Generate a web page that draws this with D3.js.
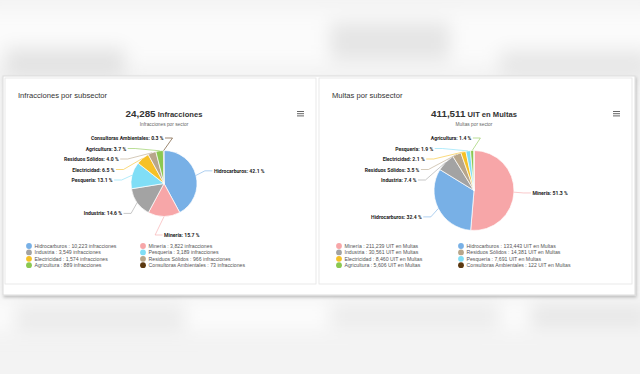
<!DOCTYPE html>
<html>
<head>
<meta charset="utf-8">
<script src="https://cdn.jsdelivr.net/npm/d3@7"></script>
<style>
  body { margin: 0; background: #f4f4f4; }
  svg { display: block; font-family: "Liberation Sans", Arial, sans-serif; }
</style>
</head>
<body>
<div id="chart"></div>
<script>
// --- data ---
var infCategories = ["Hidrocarburos", "Minería", "Industria", "Pesquería", "Electricidad", "Residuos Sólidos", "Agricultura", "Consultoras Ambientales"];
var infValues = [10223, 3822, 3549, 3189, 1574, 966, 889, 73];
var infTotal = 24285;

var multCategories = ["Minería", "Hidrocarburos", "Industria", "Residuos Sólidos", "Electricidad", "Pesquería", "Agricultura", "Consultoras Ambientales"];
var multValues = [211239, 133443, 30561, 14381, 8460, 7691, 5606, 122];
var multTotal = 411511;

var sectorColors = {
  "Hidrocarburos": "#78b0e6",
  "Minería": "#f7a6a8",
  "Industria": "#a3a3a3",
  "Pesquería": "#80def6",
  "Electricidad": "#f6c126",
  "Residuos Sólidos": "#b8a68a",
  "Agricultura": "#8cc850",
  "Consultoras Ambientales": "#5b3810"
};

var W = 640, H = 374;
var fmt = d3.format(",");

var svg = d3.select("#chart").append("svg")
    .attr("width", W).attr("height", H);

var defs = svg.append("defs");
defs.append("filter").attr("id", "blur").attr("x", "-50%").attr("y", "-50%").attr("width", "200%").attr("height", "200%")
  .append("feGaussianBlur").attr("stdDeviation", 9);
defs.append("filter").attr("id", "shadow").attr("x", "-5%").attr("y", "-5%").attr("width", "110%").attr("height", "115%")
  .append("feDropShadow").attr("dx", 1).attr("dy", 2).attr("stdDeviation", 1.5).attr("flood-color", "#000").attr("flood-opacity", 0.22);

// blurred page background (top and bottom)
var bg = svg.append("g");
bg.append("rect").attr("width", W).attr("height", H).attr("fill", "#f3f3f3");
var blobs = bg.append("g").attr("filter", "url(#blur)");
blobs.append("rect").attr("x", -20).attr("y", 10).attr("width", 680).attr("height", 55).attr("fill", "#fbfbfb");
blobs.append("rect").attr("x", 5).attr("y", 48).attr("width", 120).attr("height", 30).attr("fill", "#e3e3e3");
blobs.append("rect").attr("x", 330).attr("y", 22).attr("width", 120).attr("height", 38).attr("fill", "#e5e5e5");
blobs.append("rect").attr("x", 500).attr("y", 50).attr("width", 150).attr("height", 28).attr("fill", "#e7e7e7");
blobs.append("rect").attr("x", -20).attr("y", 300).attr("width", 680).attr("height", 30).attr("fill", "#fcfcfc");
blobs.append("rect").attr("x", 15).attr("y", 305).attr("width", 170).attr("height", 25).attr("fill", "#ebebeb");
blobs.append("rect").attr("x", 330).attr("y", 305).attr("width", 170).attr("height", 22).attr("fill", "#ebebeb");
blobs.append("rect").attr("x", 530).attr("y", 305).attr("width", 120).attr("height", 22).attr("fill", "#e6e6e6");

// outer panel
svg.append("rect").attr("x", 3).attr("y", 76).attr("width", 632).attr("height", 219)
  .attr("fill", "#fff").attr("stroke", "#dcdcdc").attr("filter", "url(#shadow)");

var charts = [
  { cardX: 5, cardW: 311, heading: "Infracciones por subsector", bigNum: fmt(infTotal), bigUnit: " Infracciones",
    subtitle: "Infracciones por sector", cats: infCategories, vals: infValues, unit: "infracciones",
    cx: 164, cy: 183.5, r: 33, legX: 29, legCol: 114 },
  { cardX: 319, cardW: 313, heading: "Multas por subsector", bigNum: fmt(multTotal), bigUnit: " UIT en Multas",
    subtitle: "Multas por sector", cats: multCategories, vals: multValues, unit: "UIT en Multas",
    cx: 474, cy: 190.5, r: 40, legX: 339, legCol: 122 }
];

charts.forEach(drawCard);

function drawCard(c) {
  var g = svg.append("g");
  g.append("rect").attr("x", c.cardX).attr("y", 78).attr("width", c.cardW).attr("height", 206)
    .attr("fill", "#fff").attr("stroke", "#e4e4e4").attr("stroke-width", 0.8);

  g.append("text").attr("x", c.cardX + 13).attr("y", 98)
    .attr("font-size", 7.6).attr("fill", "#333").text(c.heading);

  var t = g.append("text").attr("x", c.cx).attr("y", 117).attr("text-anchor", "middle")
    .attr("font-weight", "bold").attr("fill", "#333");
  t.append("tspan").attr("font-size", 9.8).text(c.bigNum);
  t.append("tspan").attr("font-size", 7.6).text(c.bigUnit);

  g.append("text").attr("x", c.cx).attr("y", 125.5).attr("text-anchor", "middle")
    .attr("font-size", 4.8).attr("fill", "#666").text(c.subtitle);

  // context menu icon
  var mx = c.cardX + c.cardW - 19;
  [0, 2.2, 4.4].forEach(function(dy) {
    g.append("line").attr("x1", mx).attr("x2", mx + 7).attr("y1", 111.5 + dy).attr("y2", 111.5 + dy)
      .attr("stroke", "#666").attr("stroke-width", 1);
  });

  var data = c.cats.map(function(name, i) { return { name: name, value: c.vals[i] }; });
  var total = d3.sum(data, function(d) { return d.value; });

  var pie = d3.pie().sort(null).value(function(d) { return d.value; });
  var arcs = pie(data);
  var arc = d3.arc().innerRadius(0).outerRadius(c.r);

  var pg = g.append("g").attr("transform", "translate(" + c.cx + "," + c.cy + ")");
  pg.selectAll("path").data(arcs).enter().append("path")
    .attr("d", arc)
    .attr("fill", function(d) { return sectorColors[d.data.name]; })
    .attr("stroke", "#fff").attr("stroke-width", 0.7).attr("stroke-linejoin", "round");

  // data labels, highcharts-like distribution
  var R = c.r + 18.5, top = 138, gap = 10.5;
  var labels = arcs.filter(function(d) { return d.value / total >= 0.001; }).map(function(d) {
    var a = (d.startAngle + d.endAngle) / 2;
    return { d: d, a: a, left: a > Math.PI, ny: c.cy - Math.cos(a) * R };
  });
  [true, false].forEach(function(side) {
    var s = labels.filter(function(l) { return l.left === side; }).sort(function(a, b) { return a.ny - b.ny; });
    var prev = -Infinity;
    s.forEach(function(l) { l.y = Math.max(l.ny, top, prev + gap); prev = l.y; });
  });
  labels.forEach(function(l) {
    var yy = Math.abs(l.y - l.ny) < 8 ? l.ny : l.y;
    var dy = Math.max(-R, Math.min(R, yy - c.cy));
    var off = Math.cos(Math.asin(dy / R)) * R;
    l.x = c.cx + (l.left ? -1 : 1) * off;
    var ex = c.cx + Math.sin(l.a) * c.r, ey = c.cy - Math.cos(l.a) * c.r;
    var s = l.left ? 1 : -1;
    g.append("path")
      .attr("d", "M" + ex + "," + ey + "L" + (l.x + s * 9) + "," + l.y + "L" + (l.x + s * 1.5) + "," + l.y)
      .attr("fill", "none").attr("stroke", sectorColors[l.d.data.name]).attr("stroke-width", 0.6);
    g.append("text").attr("x", l.x).attr("y", l.y + 2)
      .attr("text-anchor", l.left ? "end" : "start")
      .attr("font-family", "Roboto, 'Liberation Sans', Arial, sans-serif")
      .attr("font-size", 5.1).attr("font-weight", "bold").attr("fill", "#222")
      .text(l.d.data.name + ": " + (l.d.value / total * 100).toFixed(1) + " %");
  });

  // legend, two columns
  var lg = g.append("g");
  data.forEach(function(d, i) {
    var col = i % 2, row = Math.floor(i / 2);
    var lx = c.legX + col * c.legCol, ly = 246 + row * 6.4;
    lg.append("circle").attr("cx", lx).attr("cy", ly).attr("r", 2.9).attr("fill", sectorColors[d.name]);
    lg.append("text").attr("x", lx + 5.5).attr("y", ly + 2)
      .attr("font-size", 5.2).attr("fill", "#555")
      .text(d.name + " : " + fmt(d.value) + " " + c.unit);
  });
}
</script>
</body>
</html>
